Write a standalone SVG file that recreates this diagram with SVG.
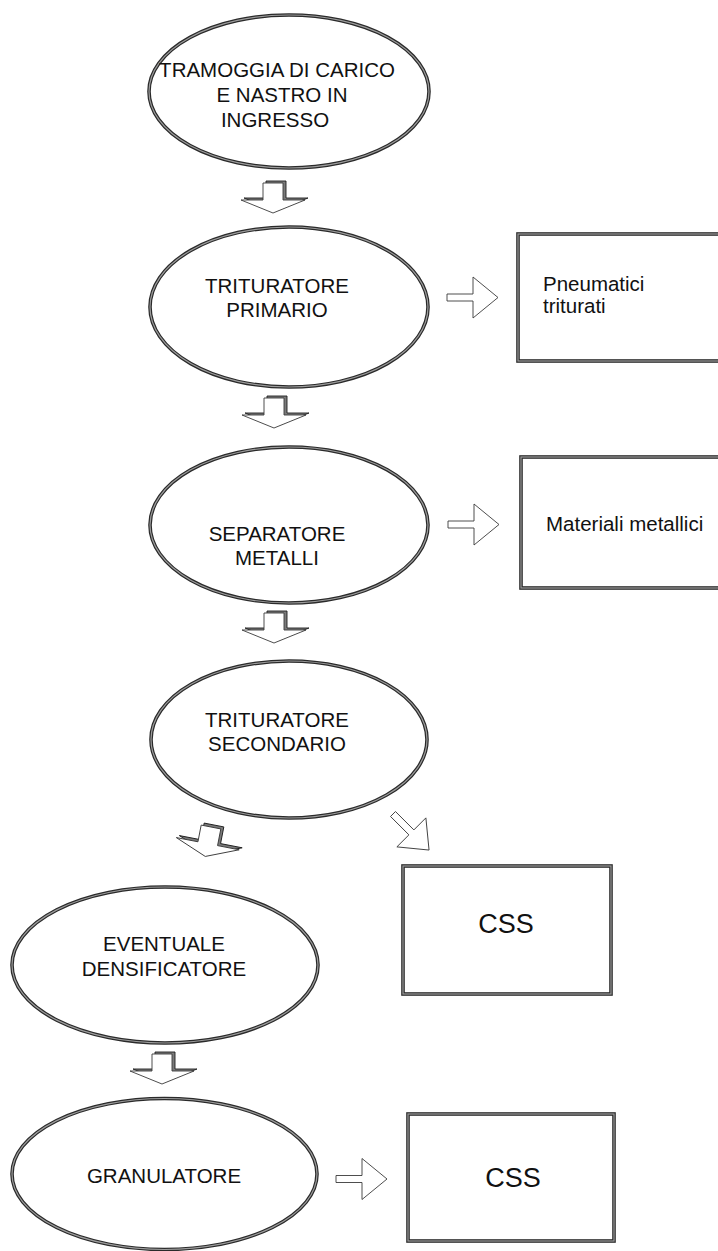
<svg xmlns="http://www.w3.org/2000/svg" xmlns:xlink="http://www.w3.org/1999/xlink" width="718" height="1251" viewBox="0 0 718 1251">
  <style>
    .outer { fill: #ffffff; stroke: #2a2a2a; stroke-width: 3.6; }
    .inner { fill: none; stroke: #9c9c9c; stroke-width: 1.2; }
    .lbl { font-family: "Liberation Sans", Arial, sans-serif; font-size: 20.5px; fill: #111111; }
    .big { font-family: "Liberation Sans", Arial, sans-serif; font-size: 27px; fill: #111111; }
    .mid { text-anchor: middle; }
    .arr { fill: #ffffff; stroke: #3a3a3a; stroke-width: 0.9; stroke-linejoin: miter; }
    .shade { fill: #7a7a7a; stroke: #1e1e1e; stroke-width: 0.9; }
  </style>
  <defs>
    <!-- block arrow pointing down, origin at the centre of the stem top -->
    <path id="down" d="M-10,0 H10 V17 H32 L0,30 L-32,17 H-10 Z"/>
    <!-- block arrow pointing right, origin at the centre of the stem tail -->
    <path id="right" d="M0,-3.5 H26 V-20.5 L51,0 L26,20.5 V3.5 H0 Z"/>
  </defs>
  <rect width="718" height="1251" fill="#ffffff"/>

  <!-- process steps -->
  <g id="tramoggia">
    <ellipse class="outer" cx="289" cy="91.5" rx="140" ry="76.5"/>
    <ellipse class="inner" cx="289" cy="91.5" rx="140" ry="76.5"/>
    <text class="lbl mid" x="277" y="77">TRAMOGGIA DI CARICO</text>
    <text class="lbl mid" x="282" y="102">E NASTRO IN</text>
    <text class="lbl mid" x="275" y="127">INGRESSO</text>
  </g>

  <g id="trituratore-primario">
    <ellipse class="outer" cx="289" cy="307" rx="139" ry="80"/>
    <ellipse class="inner" cx="289" cy="307" rx="139" ry="80"/>
    <text class="lbl mid" x="277" y="293">TRITURATORE</text>
    <text class="lbl mid" x="277" y="317">PRIMARIO</text>
  </g>

  <g id="pneumatici-triturati">
    <rect class="outer" x="518" y="234" width="212" height="127"/>
    <rect class="inner" x="518" y="234" width="212" height="127"/>
    <text class="lbl" x="543" y="291">Pneumatici</text>
    <text class="lbl" x="543" y="313">triturati</text>
  </g>

  <g id="separatore-metalli">
    <ellipse class="outer" cx="289" cy="525" rx="139" ry="78"/>
    <ellipse class="inner" cx="289" cy="525" rx="139" ry="78"/>
    <text class="lbl mid" x="277" y="541">SEPARATORE</text>
    <text class="lbl mid" x="277" y="565">METALLI</text>
  </g>

  <g id="materiali-metallici">
    <rect class="outer" x="521" y="457" width="212" height="131"/>
    <rect class="inner" x="521" y="457" width="212" height="131"/>
    <text class="lbl" x="546" y="531">Materiali metallici</text>
  </g>

  <g id="trituratore-secondario">
    <ellipse class="outer" cx="289" cy="739.5" rx="138" ry="78.5"/>
    <ellipse class="inner" cx="289" cy="739.5" rx="138" ry="78.5"/>
    <text class="lbl mid" x="277" y="727">TRITURATORE</text>
    <text class="lbl mid" x="277" y="751">SECONDARIO</text>
  </g>

  <g id="css-1">
    <rect class="outer" x="403" y="866" width="208" height="128"/>
    <rect class="inner" x="403" y="866" width="208" height="128"/>
    <text class="big mid" x="506" y="933">CSS</text>
  </g>

  <g id="densificatore">
    <ellipse class="outer" cx="165" cy="965" rx="153" ry="78"/>
    <ellipse class="inner" cx="165" cy="965" rx="153" ry="78"/>
    <text class="lbl mid" x="164" y="951">EVENTUALE</text>
    <text class="lbl mid" x="164" y="976">DENSIFICATORE</text>
  </g>

  <g id="granulatore">
    <ellipse class="outer" cx="164.5" cy="1174" rx="152.5" ry="75.5"/>
    <ellipse class="inner" cx="164.5" cy="1174" rx="152.5" ry="75.5"/>
    <text class="lbl mid" x="164" y="1183">GRANULATORE</text>
  </g>

  <g id="css-2">
    <rect class="outer" x="408" y="1114" width="206" height="127"/>
    <rect class="inner" x="408" y="1114" width="206" height="127"/>
    <text class="big mid" x="513" y="1187">CSS</text>
  </g>

  <!-- block arrows between the steps -->
  <g id="connectors">
    <g transform="translate(273,183)">
      <use xlink:href="#down" class="shade" transform="translate(3,-2)"/>
      <use xlink:href="#down" class="arr"/>
    </g>
    <g transform="translate(274,398)">
      <use xlink:href="#down" class="shade" transform="translate(3,-2)"/>
      <use xlink:href="#down" class="arr"/>
    </g>
    <g transform="translate(274,613)">
      <use xlink:href="#down" class="shade" transform="translate(3,-2)"/>
      <use xlink:href="#down" class="arr"/>
    </g>
    <g>
      <use xlink:href="#down" class="shade" transform="translate(214,825) rotate(11)"/>
      <use xlink:href="#down" class="arr" transform="translate(211,827) rotate(11)"/>
    </g>
    <g transform="translate(162,1054)">
      <use xlink:href="#down" class="shade" transform="translate(3,-2)"/>
      <use xlink:href="#down" class="arr"/>
    </g>
    <use xlink:href="#right" class="arr" transform="translate(447,297.5)"/>
    <use xlink:href="#right" class="arr" transform="translate(448,524.5)"/>
    <use xlink:href="#right" class="arr" transform="translate(336,1179)"/>
    <use xlink:href="#right" class="arr" transform="translate(393,814) rotate(45)"/>
  </g>
</svg>
